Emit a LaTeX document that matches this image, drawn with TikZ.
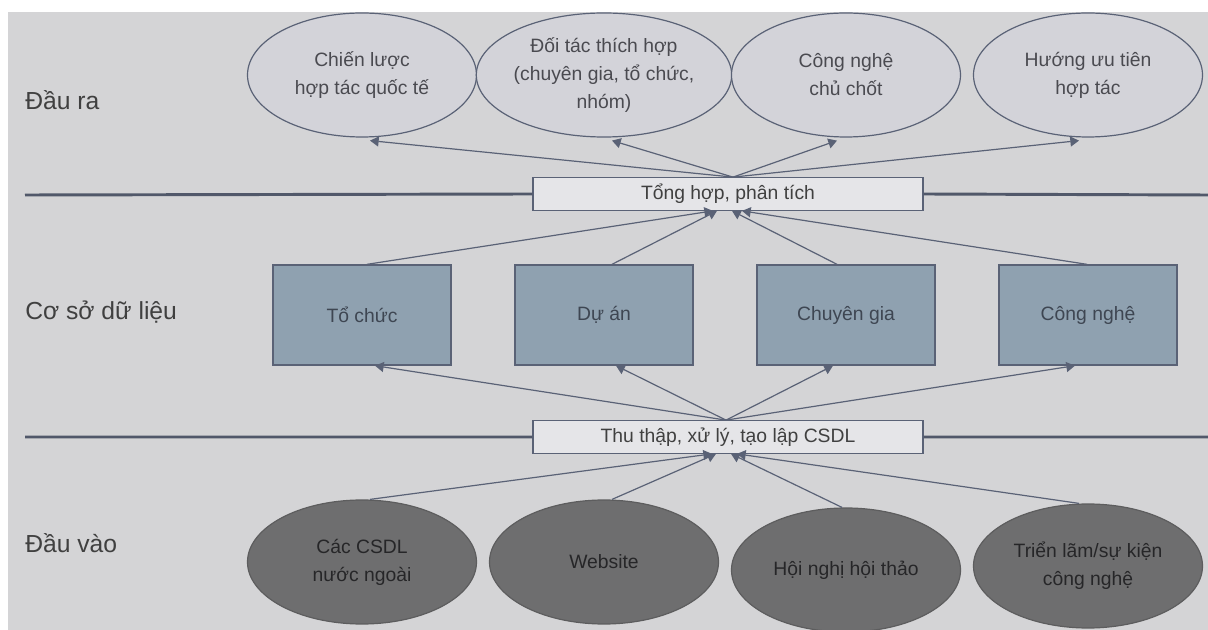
\documentclass[tikz,border=0pt]{standalone}
\usepackage{fontspec}
\setmainfont{Liberation Sans}
\usetikzlibrary{shapes.geometric,arrows.meta,positioning,calc}

\definecolor{bgc}{HTML}{D4D4D6}
\definecolor{linec}{HTML}{5A6276}
\definecolor{outfill}{HTML}{D3D3D9}
\definecolor{dbfill}{HTML}{8FA1B0}
\definecolor{infill}{HTML}{6E6E6F}
\definecolor{txtc}{HTML}{4A4A50}
\definecolor{intxt}{HTML}{262628}
\definecolor{dbtxt}{HTML}{3E4652}

\tikzset{
 result/.style={ellipse,draw=linec,fill=outfill,line width=0.9pt,minimum width=171.75pt,minimum height=93pt,inner sep=0pt,align=center,text=txtc,font=\fontsize{14.5}{21}\selectfont},
 source/.style={ellipse,draw=infill!85!black,fill=infill,line width=0.9pt,minimum width=171.75pt,minimum height=93pt,inner sep=0pt,align=center,text=intxt,font=\fontsize{14.5}{21}\selectfont},
 db/.style={rectangle,draw=linec,fill=dbfill,line width=1pt,minimum width=133.5pt,minimum height=75pt,text=dbtxt,font=\fontsize{14.5}{21}\selectfont},
 work/.style={rectangle,draw=linec,fill=outfill!60!white,line width=0.8pt,minimum width=292.5pt,minimum height=24.5pt,inner sep=0pt,text=black!75,font=\fontsize{14.5}{21}\selectfont},
 level/.style={anchor=west,inner sep=0pt,text=black!75,font=\fontsize{18.5}{22}\selectfont},
 flow/.style={every edge/.style={draw=linec,line width=0.9pt,-{Triangle[length=6.5pt,width=7.5pt]}}},
 rule/.style={draw=linec!90!black,line width=2.2pt}
}

\begin{document}
\begin{tikzpicture}[x=0.75pt,y=-0.75pt,node distance=181.5pt,on grid]
 \useasboundingbox (0,0) rectangle (1208,630);
 \fill[bgc] (8,12) rectangle (1208,630);

 \node[level] (l_out) at (25,100) {Đầu ra};
 \node[level] (l_db) at (25,312) {Cơ sở dữ liệu};
 \node[level] (l_in) at (25,543) {Đầu vào};

 \node[result] (o_1) at (362,75) {Chiến lược\\hợp tác quốc tế};
 \node[result] (o_2)[right=of o_1] {Đối tác thích hợp\\(chuyên gia, tổ chức,\\nhóm)};
 \node[result] (o_3)[right=of o_2] {Công nghệ\\chủ chốt};
 \node[result] (o_4)[right=of o_3] {Hướng ưu tiên\\hợp tác};

 \node[work] (sum) at (728,194) {Tổng hợp, phân tích};
 \coordinate (r1_a) at (25,195);
 \coordinate (r1_b) at (1208,195);

 \node[db] (d_1) at (362,315) {Tổ chức};
 \node[db] (d_2)[right=of d_1] {Dự án};
 \node[db] (d_3)[right=of d_2] {Chuyên gia};
 \node[db] (d_4)[right=of d_3] {Công nghệ};

 \node[work] (col) at (728,437) {Thu thập, xử lý, tạo lập CSDL};
 \coordinate (r2_a) at (25,437);
 \coordinate (r2_b) at (1208,437);

 \node[source] (i_1) at (362,562) {Các CSDL\\nước ngoài};
 \node[source] (i_2)[right=of i_1] {Website};
 \node[source] (i_3)[right=of i_2,yshift=-6pt] {Hội nghị hội thảo};
 \node[source] (i_4)[right=of i_3,yshift=3pt] {Triển lãm/sự kiện\\công nghệ};

 \path[rule] (r1_a) -- (sum.west) (sum.east) -- (r1_b)
  (r2_a) -- (col.west) (col.east) -- (r2_b);

 \path[flow]
  ($(sum.north)+(5,0)$) edge ($(o_1.south)+(8,3)$)
  ($(sum.north)+(5,0)$) edge ($(o_2.south)+(8,3)$)
  ($(sum.north)+(5,0)$) edge ($(o_3.south)+(-9,3)$)
  ($(sum.north)+(5,0)$) edge ($(o_4.south)+(-9,3)$)
  ($(d_1.north)+(5,0)$) edge ($(sum.south)+(-15,0)$)
  ($(d_2.north)+(8,0)$) edge ($(sum.south)+(-11,0)$)
  ($(d_3.north)+(-9,0)$) edge ($(sum.south)+(4,0)$)
  ($(d_4.north)+(-1,0)$) edge ($(sum.south)+(14,0)$)
  ($(col.north)+(-2,0)$) edge ($(d_1.south)+(13,0)$)
  ($(col.north)+(-2,0)$) edge ($(d_2.south)+(12,0)$)
  ($(col.north)+(-2,0)$) edge ($(d_3.south)+(-13,0)$)
  ($(col.north)+(-2,0)$) edge ($(d_4.south)+(-13,0)$)
  ($(i_1.north)+(8,0)$) edge ($(col.south)+(-16,0)$)
  ($(i_2.north)+(8,0)$) edge ($(col.south)+(-12,0)$)
  ($(i_3.north)+(-4,0)$) edge ($(col.south)+(3,0)$)
  ($(i_4.north)+(-9,0)$) edge ($(col.south)+(9,0)$);
\end{tikzpicture}
\end{document}
